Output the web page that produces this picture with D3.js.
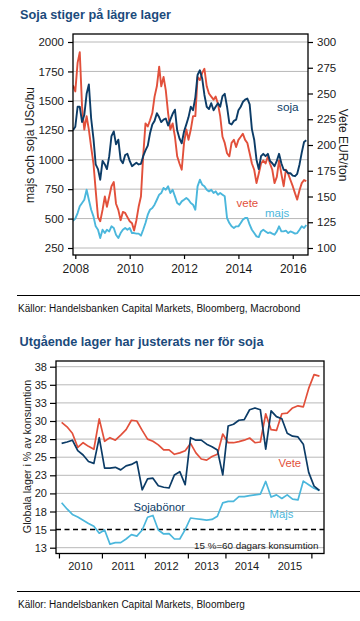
<!DOCTYPE html>
<html>
<head>
<meta charset="utf-8">
<script src="https://cdn.jsdelivr.net/npm/d3@7"></script>
<style>
  body { margin: 0; background: #fff; }
  svg text { font-family: "Liberation Sans", Arial, sans-serif; }
</style>
</head>
<body>
<svg id="chart" width="360" height="621"></svg>
<script>
// ---- chart 1: monthly prices, Dec 2007 .. Jul 2016 ----
const forstaManad = new Date(2007, 11, 1);
const sojaPris = [1250, 1280, 1450, 1450, 1320, 1380, 1560, 1640, 1350, 1180, 960, 920, 830,
  990, 960, 920, 1030, 1200, 1240, 1130, 1170, 1000, 970, 1040, 1050,
  990, 945, 960, 975, 960, 965, 1030, 1080, 1120, 1225, 1300, 1330,
  1395, 1360, 1320, 1340, 1350, 1290, 1340, 1390, 1425, 1250, 1180, 1140,
  1240, 1300, 1360, 1450, 1420, 1530, 1720, 1760, 1690, 1550, 1450, 1430,
  1480, 1420, 1450, 1480, 1450, 1540, 1560, 1450, 1310, 1300, 1330, 1340,
  1420, 1450, 1490, 1510, 1520, 1470, 1260, 1170, 1000, 920, 1030, 1050,
  1030, 1050, 990, 970, 945, 990, 1050, 970, 915, 910, 885, 885,
  865, 860, 880, 960, 1060, 1150, 1165];
const vetePris = [258, 252, 280, 290, 237, 215, 228, 215, 198, 182, 156, 130, 126,
  137, 150, 140, 150, 160, 164, 143, 137, 127, 135, 134, 130,
  126, 124, 117, 127, 140, 150, 189, 221, 218, 224, 231, 247,
  257, 276, 257, 266, 253, 231, 215, 221, 208, 189, 182, 176,
  202, 215, 205, 215, 228, 228, 266, 263, 270, 274, 257, 250,
  247, 244, 247, 240, 228, 208, 202, 192, 189, 202, 205, 198,
  205, 208, 211, 205, 202, 192, 182, 176, 163, 172, 182, 185,
  182, 189, 182, 176, 163, 169, 185, 172, 160, 176, 172, 166,
  160, 153, 147, 156, 163, 166, 165];
const majsPris = [480, 500, 547, 604, 632, 660, 745, 660, 575, 519, 434, 405, 335,
  405, 377, 405, 391, 434, 420, 363, 335, 377, 405, 420, 405,
  420, 377, 377, 372, 372, 355, 405, 462, 533, 575, 590, 618,
  660, 703, 717, 760, 745, 774, 717, 745, 689, 632, 618, 646,
  660, 675, 660, 632, 618, 575, 774, 830, 788, 774, 745, 731,
  745, 717, 731, 703, 717, 703, 689, 505, 462, 434, 420, 434,
  434, 462, 490, 505, 505, 448, 405, 377, 349, 343, 391, 405,
  391, 377, 383, 372, 363, 391, 434, 391, 391, 397, 377, 391,
  383, 372, 377, 405, 434, 420, 445];
const vansterTicks = [250, 500, 750, 1000, 1250, 1500, 1750, 2000];
const hogerTicks = [100, 125, 150, 175, 200, 225, 250, 275, 300];
const arTicks1 = [2008, 2010, 2012, 2014, 2016];

// ---- chart 2: ending stocks, % of consumption ----
const lagerAr = ["2010", "2011", "2012", "2013", "2014", "2015", "2016"];
const punkterPerAr = [8, 8, 8, 7, 8, 8, 2];
const sojaLager = [26.9, 27.1, 27.35, 25.9, 25.3, 24.4, 24.15, 27.7,
  23.5, 23.5, 23.6, 23.25, 23.8, 24.0, 24.4, 20.5,
  22.0, 22.1, 21.05, 20.85, 20.75, 22.55, 23.0, 21.2,
  27.7, 27.35, 27.35, 26.8, 26.45, 26.0, 22.55,
  29.3, 29.55, 30.1, 30.2, 31.55, 31.8, 31.55, 26.1,
  31.4, 30.6, 30.3, 28.3, 27.9, 27.8, 26.8, 22.9,
  21.0, 20.4];
const veteLager = [29.8, 29.2, 28.3, 26.35, 27.0, 26.5, 26.1, 30.3,
  27.2, 27.7, 27.35, 28.05, 28.8, 30.1, 30.0, 28.7,
  27.5, 27.2, 26.7, 26.0, 26.0, 25.4, 25.6, 25.9,
  26.9, 25.6, 24.75, 24.6, 25.1, 25.4, 28.2,
  27.0, 27.0, 27.15, 27.35, 27.65, 27.0, 27.1, 31.0,
  28.8, 28.7, 31.0, 31.1, 31.8, 32.1, 31.95, 34.5,
  36.4, 36.2];
const majsLager = [18.7, 17.85, 17.1, 16.75, 16.3, 15.85, 15.45, 14.5,
  14.95, 13.0, 13.2, 13.2, 13.7, 14.3, 14.1, 14.95,
  16.7, 16.95, 14.95, 14.4, 14.45, 13.7, 13.7, 15.0,
  16.6, 16.5, 16.4, 16.3, 16.4, 16.85, 18.7,
  18.9, 18.9, 19.55, 19.55, 19.7, 19.8, 19.9, 21.65,
  19.5, 19.8, 19.3, 19.8, 19.2, 19.1, 21.7, 21.2,
  20.7, 20.4];
const lagerTicks = [12.5, 15, 17.5, 20, 22.5, 25, 27.5, 30, 32.5, 35, 37.5];

const navy = "#0c3c67", rod = "#e2503b", ljusbla = "#4bb7dc", titelFarg = "#1b4a7b";

const svg = d3.select("#chart");

// titles, separators, sources
svg.append("text").attr("x", 20).attr("y", 19).attr("font-size", 12.7).attr("font-weight", "bold")
  .attr("fill", titelFarg).text("Soja stiger på lägre lager");
svg.append("text").attr("x", 19.5).attr("y", 345.5).attr("font-size", 12.7).attr("font-weight", "bold")
  .attr("fill", titelFarg).text("Utgående lager har justerats ner för soja");
[295.5, 591.5].forEach(y => svg.append("line").attr("x1", 17).attr("x2", 360).attr("y1", y).attr("y2", y)
  .attr("stroke", "#000").attr("stroke-width", 1));
svg.append("text").attr("x", 18).attr("y", 311.5).attr("font-size", 10).attr("fill", "#111")
  .text("Källor: Handelsbanken Capital Markets, Bloomberg, Macrobond");
svg.append("text").attr("x", 18).attr("y", 608).attr("font-size", 10).attr("fill", "#111")
  .text("Källor: Handelsbanken Capital Markets, Bloomberg");

// ================= chart 1 =================
const f1 = { left: 73, right: 308, top: 34, bottom: 255 };
const manader = sojaPris.map((d, i) => d3.timeMonth.offset(forstaManad, i));
const x1 = d3.scaleTime().domain([new Date(2007, 11, 1), new Date(2016, 6, 24)]).range([f1.left, f1.right]);
const yL = d3.scaleLinear().domain([250, 2000]).range([248, 42]);
const yR = d3.scaleLinear().domain([100, 300]).range([248, 42]);

svg.append("clipPath").attr("id", "clip1").append("rect")
  .attr("x", f1.left).attr("y", f1.top).attr("width", f1.right - f1.left).attr("height", f1.bottom - f1.top);

svg.append("g").selectAll("line").data(vansterTicks).join("line")
  .attr("x1", f1.left).attr("x2", f1.right).attr("y1", d => yL(d)).attr("y2", d => yL(d))
  .attr("stroke", "#b8b8b8").attr("stroke-width", 1);

const serier1 = [
  { namn: "majs", data: majsPris, y: yL, farg: ljusbla },
  { namn: "vete", data: vetePris, y: yR, farg: rod },
  { namn: "soja", data: sojaPris, y: yL, farg: navy }
];
const g1 = svg.append("g").attr("clip-path", "url(#clip1)");
serier1.forEach(s => {
  g1.append("path").datum(s.data)
    .attr("fill", "none").attr("stroke", s.farg).attr("stroke-width", 1.9).attr("stroke-linejoin", "round")
    .attr("d", d3.line().x((d, i) => x1(manader[i])).y(d => s.y(d)));
});

const axL = svg.append("g").attr("transform", `translate(${f1.left},0)`)
  .call(d3.axisLeft(yL).tickValues(vansterTicks).tickFormat(d3.format("d")).tickSize(5).tickPadding(4));
const axR = svg.append("g").attr("transform", `translate(${f1.right},0)`)
  .call(d3.axisRight(yR).tickValues(hogerTicks).tickFormat(d3.format("d")).tickSize(5).tickPadding(4));
const axB = svg.append("g").attr("transform", `translate(0,${f1.bottom})`)
  .call(d3.axisBottom(x1).tickValues(arTicks1.map(a => new Date(a, 0, 1))).tickFormat(d3.timeFormat("%Y")).tickSize(4).tickPadding(5));
[axL, axR, axB].forEach(a => {
  a.select(".domain").remove();
  a.selectAll("line").attr("stroke", "#000").attr("stroke-width", 1.2);
  a.selectAll("text").attr("font-size", 11.5).attr("fill", "#1a1a1a").attr("font-family", "Liberation Sans, Arial, sans-serif");
});
axB.selectAll("text").attr("font-size", 12);

svg.append("rect").attr("x", f1.left).attr("y", f1.top).attr("width", f1.right - f1.left).attr("height", f1.bottom - f1.top)
  .attr("fill", "none").attr("stroke", "#000").attr("stroke-width", 1.3);

svg.append("text").attr("transform", "translate(34,145) rotate(-90)").attr("text-anchor", "middle")
  .attr("font-size", 12).attr("fill", "#1a1a1a").text("majs och soja USc/bu");
svg.append("text").attr("transform", "translate(339,145) rotate(90)").attr("text-anchor", "middle")
  .attr("font-size", 12).attr("fill", "#1a1a1a").text("Vete EUR/ton");

svg.append("text").attr("x", 277).attr("y", 110.5).attr("font-size", 11.8).attr("fill", navy).text("soja");
svg.append("text").attr("x", 236.5).attr("y", 206.5).attr("font-size", 11.5).attr("fill", rod).text("vete");
svg.append("text").attr("x", 265).attr("y", 217).attr("font-size", 11.5).attr("fill", ljusbla).text("majs");

// ================= chart 2 =================
const f2 = { left: 56, right: 324, top: 361, bottom: 553.5 };
const x2 = d3.scaleLinear().domain([-1.05, 48.85]).range([f2.left, f2.right]);
const y2 = d3.scaleLinear().domain([12.5, 37.5]).range([547.7, 366.7]);

// year boundaries from point counts
const grans = [];
let idx = 0;
punkterPerAr.forEach((n, i) => { grans.push({ ar: lagerAr[i], start: idx - 0.5, slut: idx + n - 0.5, n: n }); idx += n; });

svg.append("clipPath").attr("id", "clip2").append("rect")
  .attr("x", f2.left).attr("y", f2.top).attr("width", f2.right - f2.left).attr("height", f2.bottom - f2.top);

svg.append("g").selectAll("line").data(lagerTicks.filter(t => t !== 15)).join("line")
  .attr("x1", f2.left).attr("x2", f2.right).attr("y1", d => y2(d)).attr("y2", d => y2(d))
  .attr("stroke", "#b8b8b8").attr("stroke-width", 1);
svg.append("line").attr("x1", f2.left).attr("x2", f2.right).attr("y1", y2(15)).attr("y2", y2(15))
  .attr("stroke", "#000").attr("stroke-width", 1.5).attr("stroke-dasharray", "5,3.5");

const serier2 = [
  { data: majsLager, farg: ljusbla },
  { data: veteLager, farg: rod },
  { data: sojaLager, farg: navy }
];
const g2 = svg.append("g").attr("clip-path", "url(#clip2)");
serier2.forEach(s => {
  g2.append("path").datum(s.data)
    .attr("fill", "none").attr("stroke", s.farg).attr("stroke-width", 1.7).attr("stroke-linejoin", "round")
    .attr("d", d3.line().x((d, i) => x2(i)).y(d => y2(d)));
});

const ax2L = svg.append("g").attr("transform", `translate(${f2.left},0)`)
  .call(d3.axisLeft(y2).tickValues(lagerTicks).tickFormat(d => Math.round(d)).tickSize(6).tickPadding(3));
const ax2B = svg.append("g").attr("transform", `translate(0,${f2.bottom})`)
  .call(d3.axisBottom(x2).tickValues(grans.map(g => g.start)).tickFormat("").tickSize(5));
[ax2L, ax2B].forEach(a => {
  a.select(".domain").remove();
  a.selectAll("line").attr("stroke", "#000").attr("stroke-width", 1.2);
  a.selectAll("text").attr("font-size", 11).attr("fill", "#1a1a1a").attr("font-family", "Liberation Sans, Arial, sans-serif");
});
svg.append("g").selectAll("text").data(grans.filter(g => g.n >= 7)).join("text")
  .attr("x", d => x2((d.start + d.slut) / 2)).attr("y", 570).attr("text-anchor", "middle")
  .attr("font-size", 11).attr("fill", "#1a1a1a").text(d => d.ar);

svg.append("rect").attr("x", f2.left).attr("y", f2.top).attr("width", f2.right - f2.left).attr("height", f2.bottom - f2.top)
  .attr("fill", "none").attr("stroke", "#000").attr("stroke-width", 1.3);

svg.append("text").attr("transform", "translate(31,456.5) rotate(-90)").attr("text-anchor", "middle")
  .attr("font-size", 10.7).attr("fill", "#1a1a1a").text("Globala lager i % av konsumtion");
svg.append("text").attr("x", 318.5).attr("y", 549).attr("text-anchor", "end")
  .attr("font-size", 9.8).attr("fill", "#1a1a1a").text("15 %=60 dagars konsumtion");

svg.append("text").attr("x", 133.5).attr("y", 511).attr("font-size", 11.3).attr("fill", navy).text("Sojabönor");
svg.append("text").attr("x", 278.5).attr("y", 467).attr("font-size", 11.3).attr("fill", rod).text("Vete");
svg.append("text").attr("x", 269.5).attr("y", 518).attr("font-size", 11.3).attr("fill", ljusbla).text("Majs");
</script>
</body>
</html>
